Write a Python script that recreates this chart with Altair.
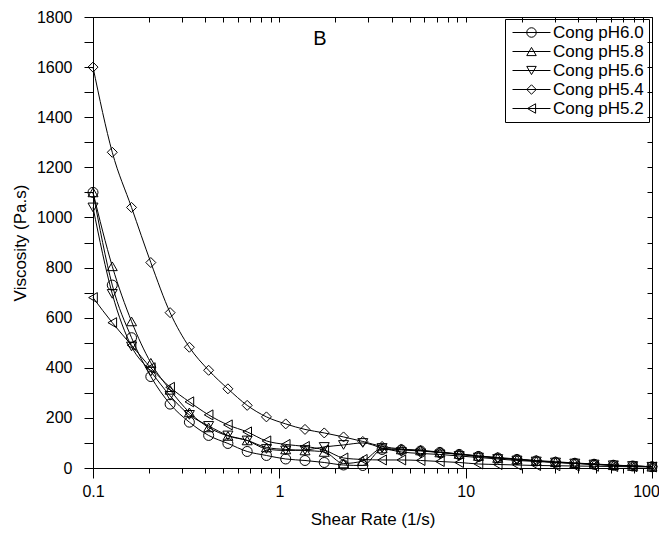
import altair as alt
import pandas as pd

# ---- data ----
shear_rate = [0.1, 0.1269, 0.161, 0.2043, 0.2593, 0.329, 0.4174, 0.5297, 0.6721, 0.8528,
              1.082, 1.373, 1.742, 2.211, 2.805, 3.56, 4.517, 5.732, 7.273, 9.228,
              11.71, 14.86, 18.85, 23.92, 30.36, 38.52, 48.88, 62.02, 78.7, 100.0]

visc_ph60 = [1100, 730, 520, 365, 255, 183, 130, 98, 66, 50,
             36, 30, 22, 12, 10, 74, 72, 68, 62, 54,
             46, 40, 34, 28, 23, 19, 15, 11, 8, 5]
visc_ph58 = [1100, 805, 585, 420, 312, 222, 162, 128, 110, 82,
             74, 70, 64, 18, 28, 78, 74, 70, 62, 56,
             48, 40, 34, 28, 23, 19, 15, 11, 8, 5]
visc_ph56 = [1040, 695, 485, 385, 288, 212, 168, 130, 110, 76,
             70, 72, 84, 92, 100, 80, 64, 58, 54, 48,
             42, 36, 30, 26, 22, 18, 14, 11, 8, 5]
visc_ph54 = [1600, 1260, 1040, 820, 620, 482, 390, 316, 250, 204,
             176, 154, 140, 124, 106, 86, 76, 70, 64, 56,
             48, 42, 36, 30, 25, 20, 16, 12, 8, 5]
visc_ph52 = [680, 580, 490, 400, 322, 264, 212, 172, 144, 108,
             94, 86, 72, 40, 34, 32, 32, 30, 26, 22,
             16, 14, 12, 10, 9, 8, 7, 6, 5, 4]

series_names = ["Cong pH6.0", "Cong pH5.8", "Cong pH5.6", "Cong pH5.4", "Cong pH5.2"]
series_shapes = ["circle", "triangle-up", "triangle-down", "diamond", "triangle-left"]
series_values = [visc_ph60, visc_ph58, visc_ph56, visc_ph54, visc_ph52]

x_tick_values = [0.1, 0.2, 0.3, 0.4, 0.5, 0.6, 0.7, 0.8, 0.9,
                 1, 2, 3, 4, 5, 6, 7, 8, 9,
                 10, 20, 30, 40, 50, 60, 70, 80, 90, 100]
y_tick_values = list(range(0, 1801, 100))

annotation_text = ["B"]
annotation_rate = [1.65]
annotation_visc = [1712]

rows = []
for name, vals in zip(series_names, series_values):
    for i, (xv, yv) in enumerate(zip(shear_rate, vals)):
        rows.append({"series": name, "name": name, "idx": i, "rate": xv, "visc": yv})
df = pd.DataFrame(rows)
ann = pd.DataFrame({"rate": annotation_rate, "visc": annotation_visc, "text": annotation_text})

FONT = "Liberation Sans"
major = "datum.value == 0.1 || datum.value == 1 || datum.value == 10 || datum.value == 100"

x_scale = alt.Scale(type="log", domain=[0.1, 100], nice=False)
y_scale = alt.Scale(domain=[0, 1800], nice=False, zero=False)

base = alt.Chart(df)

LEG_X = 412
LEG_Y = 2
LEG_ROWPAD = 1
LEG_FONT = 17
SYM_OFFSET = 13
LAB_OFFSET = 13
MARK_SIZE = 100

lines = base.mark_line(strokeWidth=1, color="black", interpolate="monotone").encode(
    x=alt.X("rate:Q", scale=x_scale, axis=alt.Axis(
        orient="bottom", values=x_tick_values, format="~g",
        labelExpr=f"({major}) ? datum.label : ''",
        tickSize={"condition": {"test": major, "value": 10}, "value": 5},
        labelOffset={"condition": {"test": "datum.value == 100", "value": -6}, "value": 0},
        labelPadding=5, labelFlush=False, labelOverlap=False, grid=False,
        domain=True, domainColor="black", tickColor="black", labelColor="black",
        labelFontSize=16, title="Shear Rate (1/s)", titleFontSize=17,
        titleFontWeight="normal", titleX=279.5, titleY=51,
        titleBaseline="middle", titleAlign="center")),
    y=alt.Y("visc:Q", scale=y_scale, axis=alt.Axis(
        orient="left", values=y_tick_values, format="d",
        labelExpr="datum.value % 200 == 0 ? datum.label : ''",
        tickSize=9, labelPadding=12, labelOverlap=False, grid=False,
        domain=True, domainColor="black", tickColor="black", labelColor="black",
        labelFontSize=16, title="Viscosity (Pa.s)", titleFontSize=17,
        titleFontWeight="normal", titleX=-73, titleY=225.5,
        titleBaseline="middle", titleAlign="center")),
    stroke=alt.Stroke("name:N", sort=series_names,
                      scale=alt.Scale(range=["black"] * 5),
                      legend=alt.Legend(
                          orient="none", legendX=LEG_X, legendY=LEG_Y, title=None,
                          symbolType="M-4,0H4", symbolSize=90, symbolStrokeWidth=1,
                          symbolOffset=SYM_OFFSET,
                          labelFontSize=LEG_FONT, labelFont=FONT, labelColor="black",
                          labelOffset=LAB_OFFSET, rowPadding=LEG_ROWPAD, padding=5,
                          strokeColor="black")),
    order="idx:Q",
)

points = base.mark_point(filled=False, size=MARK_SIZE, strokeWidth=1, color="black", opacity=1).encode(
    x=alt.X("rate:Q", scale=x_scale, axis=alt.Axis(
        orient="top", values=x_tick_values, labels=False, domain=False,
        tickSize=5, offset=-5, title=None, grid=False, tickColor="black")),
    y=alt.Y("visc:Q", scale=y_scale, axis=alt.Axis(
        orient="right", values=y_tick_values, labels=False, domain=False,
        tickSize=5, offset=-5, title=None, grid=False, tickColor="black")),
    shape=alt.Shape("series:N", scale=alt.Scale(domain=series_names, range=series_shapes),
                    legend=alt.Legend(
                        orient="none", legendX=LEG_X, legendY=LEG_Y, title=None,
                        symbolSize=90, symbolStrokeColor="black", symbolFillColor="transparent",
                        symbolStrokeWidth=1, symbolOffset=SYM_OFFSET,
                        labelFontSize=LEG_FONT, labelFont=FONT,
                        labelOpacity=0, labelOffset=LAB_OFFSET, rowPadding=LEG_ROWPAD, padding=5)),
)

text = alt.Chart(ann).mark_text(fontSize=20, font=FONT, baseline="middle", align="center",
                                color="black").encode(
    x=alt.X("rate:Q", scale=x_scale, axis=None),
    y=alt.Y("visc:Q", scale=y_scale, axis=None),
    text="text:N",
)

chart = alt.layer(lines, points, text).properties(
    width=559, height=451,
    padding={"left": 85, "top": 9, "right": 7, "bottom": 61},
    autosize=alt.AutoSizeParams(type="none"),
    background="white",
).configure_view(
    stroke="black", strokeWidth=1
).configure_axis(
    labelFont=FONT, titleFont=FONT
)

chart.save("out.html", embed_options={"renderer": "svg", "actions": False})
